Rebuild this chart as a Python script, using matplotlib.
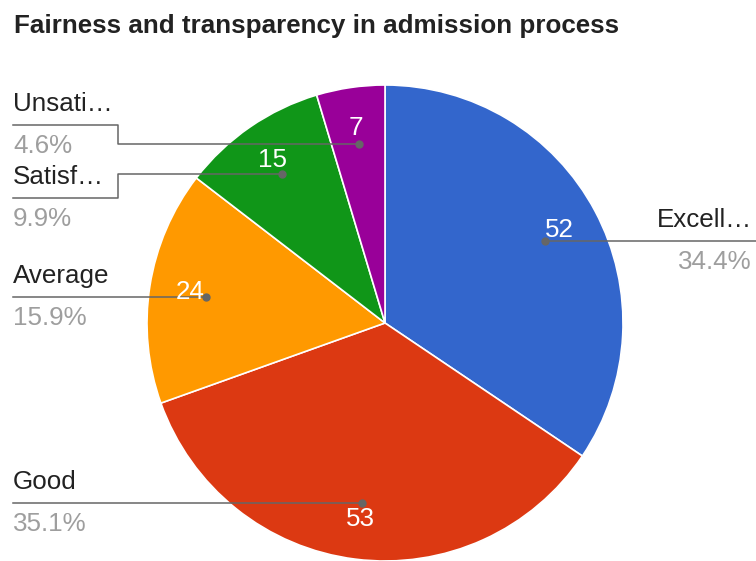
import matplotlib
matplotlib.use('Agg')

import numpy as np
import matplotlib.pyplot as plt

# data (clockwise from 12 o'clock)
categories = ['Excellent', 'Good', 'Average', 'Satisfactory', 'Unsatisfactory']
shown_labels = ['Excell\u2026', 'Good', 'Average', 'Satisf\u2026', 'Unsati\u2026']
counts = [52, 53, 24, 15, 7]
colors = ['#3366cc', '#dc3912', '#ff9900', '#109618', '#990099']

title = 'Fairness and transparency in admission process'

# layout in pixels (y grows downward)
W, H = 756, 561
cx, cy, R = 385, 323, 238
# y of the underline below each name, and which side the label sits on
underline_y = [241, 503, 297, 198, 125]
side = ['right', 'left', 'left', 'left', 'left']
elbow_x = 118
left_x = 13
right_x = 752
fs = 18.7

plt.rcParams['font.family'] = ['Liberation Sans', 'DejaVu Sans']

fig = plt.figure(figsize=(W / 100., H / 100.), dpi=100)
ax = fig.add_axes([0, 0, 1, 1])

total = float(sum(counts))

# y axis is inverted, so counterclock=True with startangle=-90 runs clockwise from top
wedges, texts, autotexts = ax.pie(counts, colors=colors, center=(cx, cy), radius=R,
                                  startangle=-90, counterclock=True,
                                  autopct=lambda p: '%d' % round(p * total / 100.),
                                  pctdistance=0.83,
                                  wedgeprops=dict(edgecolor='white', linewidth=1.2),
                                  textprops=dict(color='white', fontsize=fs))

ax.set_xlim(0, W)
ax.set_ylim(H, 0)
ax.set_aspect('equal')
ax.axis('off')

line_c = '#666666'
for i, w in enumerate(wedges):
    mid = np.deg2rad((w.theta1 + w.theta2) / 2.)
    dx = cx + 0.76 * R * np.cos(mid)
    dy = cy + 0.76 * R * np.sin(mid)
    uy = underline_y[i]
    pct = '%.1f%%' % (100. * counts[i] / total)
    if side[i] == 'right':
        ax.plot([dx, W], [uy, uy], c=line_c, lw=1.1, zorder=3)
        ax.plot(dx, uy, 'o', c=line_c, ms=5, zorder=4)
        ax.text(right_x, uy - 14, shown_labels[i], ha='right', va='baseline', fontsize=fs, color='#222222')
        ax.text(right_x, uy + 28, pct, ha='right', va='baseline', fontsize=fs, color='#9e9e9e')
    else:
        if abs(dy - uy) < 5:
            ax.plot([left_x, dx], [uy, uy], c=line_c, lw=1.1, zorder=3)
            ax.plot(dx, uy, 'o', c=line_c, ms=5, zorder=4)
        else:
            ax.plot([left_x, elbow_x, elbow_x, dx], [uy, uy, dy, dy], c=line_c, lw=1.1, zorder=3)
            ax.plot(dx, dy, 'o', c=line_c, ms=5, zorder=4)
        ax.text(left_x, uy - 14, shown_labels[i], ha='left', va='baseline', fontsize=fs, color='#222222')
        ax.text(left_x, uy + 28, pct, ha='left', va='baseline', fontsize=fs, color='#9e9e9e')

for t in autotexts:
    t.set_zorder(5)

ax.text(14, 33, title, ha='left', va='baseline', fontsize=18.7, fontweight='bold', color='#222222')

plt.savefig('out.png', dpi=100, facecolor='white')
